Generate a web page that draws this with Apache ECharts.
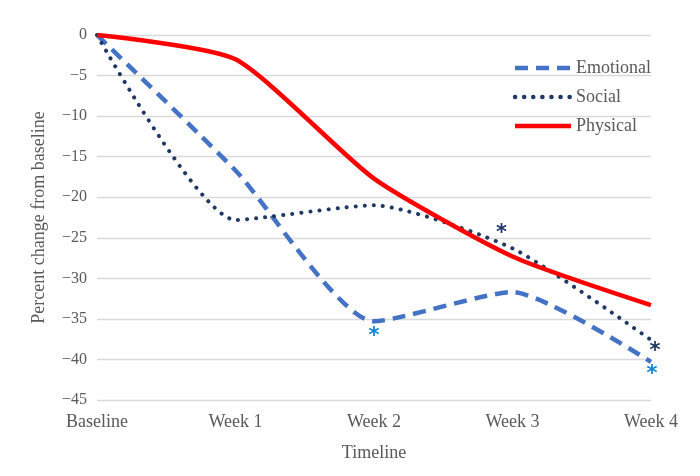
<!DOCTYPE html>
<html><head><meta charset="utf-8">
<script src="https://cdn.jsdelivr.net/npm/echarts@6/dist/echarts.min.js"></script>
<style>html,body{margin:0;padding:0;background:#fff}#c{width:700px;height:476px}</style>
</head><body><div id="c"></div>
<script>
const categories = ['Baseline', 'Week 1', 'Week 2', 'Week 3', 'Week 4'];
const emotional = [0, -16.7, -35.3, -31.7, -40.3];
const social = [0, -22.8, -21.0, -26.3, -37.6];
const physical = [0, -3.0, -17.7, -27.3, -33.3];
const emotionalStars = [2, 4];
const socialStars = [3, 4];

const serif = 'Liberation Serif, Times New Roman, serif';
function stars(vals, idx, color, offsets) {
  return {
    symbol: 'rect', symbolSize: 1, itemStyle: { color: 'rgba(0,0,0,0)' },
    data: idx.map(i => ({
      coord: [i, vals[i]],
      label: { show: true, formatter: '*', position: 'inside', offset: offsets[i],
        color: color, fontSize: 21, fontWeight: 'bold', fontFamily: 'DejaVu Sans' }
    }))
  };
}
const chart = echarts.init(document.getElementById('c'));
chart.setOption({
  animation: false,
  grid: { left: 97, right: 49, top: 35, bottom: 76 },
  legend: {
    orient: 'vertical', right: 44, top: 54, itemGap: 11,
    itemWidth: 56, itemHeight: 14,
    itemStyle: { opacity: 0 },
    lineStyle: { width: 4.5 },
    textStyle: { fontFamily: serif, fontSize: 18, color: '#595959' },
    data: ['Emotional', 'Social', 'Physical']
  },
  xAxis: {
    type: 'category', data: categories, boundaryGap: false,
    name: 'Timeline', nameLocation: 'middle', nameGap: 44,
    nameTextStyle: { fontFamily: serif, fontSize: 18, color: '#595959' },
    axisLine: { show: false }, axisTick: { show: false },
    axisLabel: { fontFamily: serif, fontSize: 18, color: '#595959', margin: 13 }
  },
  yAxis: {
    type: 'value', min: -45, max: 0, interval: 5,
    name: 'Percent change from baseline', nameLocation: 'middle', nameGap: 49,
    nameTextStyle: { fontFamily: serif, fontSize: 18, color: '#595959' },
    axisLine: { show: false }, axisTick: { show: false },
    splitLine: { lineStyle: { color: '#d9d9d9', width: 1.3 } },
    axisLabel: { fontFamily: serif, fontSize: 16, color: '#595959', margin: 10,
      formatter: v => String(v).replace('-', '\u2212') }
  },
  series: [
    { name: 'Emotional', type: 'line', smooth: 0.2, symbol: 'none',
      lineStyle: { color: '#4472C4', width: 4.5, type: [13, 8], cap: 'butt' },
      itemStyle: { color: '#4472C4' },
      data: emotional,
      markPoint: stars(emotional, emotionalStars, '#1485d6', {2: [0, 15], 4: [1, 13]}) },
    { name: 'Social', type: 'line', smooth: 0.2, symbol: 'none',
      lineStyle: { color: '#1F3864', width: 4, type: [0.1, 9], cap: 'round' },
      itemStyle: { color: '#1F3864' },
      data: social,
      markPoint: stars(social, socialStars, '#1F3864', {3: [-11, -15], 4: [4, 12]}) },
    { name: 'Physical', type: 'line', smooth: 0.2, symbol: 'none',
      lineStyle: { color: '#FF0000', width: 4.5 },
      itemStyle: { color: '#FF0000' },
      data: physical }
  ]
});
</script></body></html>
